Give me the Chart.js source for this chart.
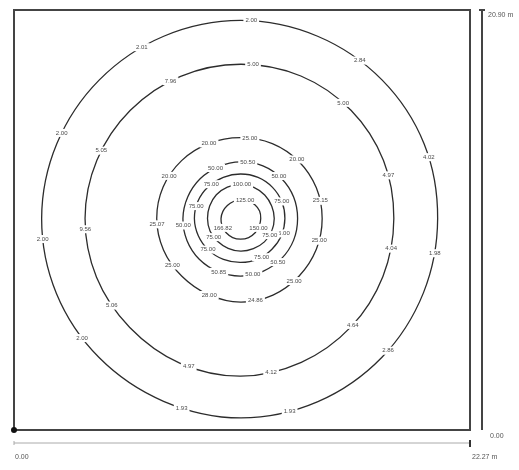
<!DOCTYPE html>
<html>
<head>
<meta charset="utf-8">
<script src="https://cdn.jsdelivr.net/npm/chart.js@4.4.1/dist/chart.umd.min.js"></script>
<style>
  html, body { margin: 0; padding: 0; background: #fff; }
  canvas { display: block; }
</style>
</head>
<body>
<canvas id="plan" width="519" height="470"></canvas>
<script>
// room size in metres
const roomWidth = 22.27;
const roomDepth = 20.90;
const centre = { x: 11.07, y: 10.52 };

const angles = [0, 22.5, 45, 67.5, 90, 112.5, 135, 157.5, 180, 202.5, 225, 247.5, 270, 292.5, 315, 337.5];

// contour radii in metres, one value per direction above
const radii2   = [9.62, 9.70, 9.76, 9.82, 9.86, 9.82, 9.76, 9.72, 9.72, 9.74, 9.78, 9.84, 9.92, 9.86, 9.76, 9.66];
const radii5   = [7.48, 7.55, 7.62, 7.68, 7.68, 7.66, 7.62, 7.60, 7.60, 7.62, 7.66, 7.78, 7.84, 7.74, 7.62, 7.52];
const radii25  = [3.98, 4.00, 4.02, 4.04, 4.03, 4.05, 4.08, 4.10, 4.10, 4.08, 4.06, 4.10, 4.16, 4.12, 4.04, 4.00];
const radii50  = [2.78, 2.80, 2.82, 2.84, 2.82, 2.80, 2.80, 2.80, 2.82, 2.84, 2.86, 2.86, 2.86, 2.84, 2.82, 2.80];
const radii75  = [2.16, 2.18, 2.20, 2.22, 2.22, 2.22, 2.24, 2.26, 2.26, 2.24, 2.22, 2.20, 2.18, 2.18, 2.16, 2.16];
const radii100 = [1.64, 1.64, 1.66, 1.68, 1.70, 1.70, 1.68, 1.64, 1.62, 1.62, 1.60, 1.60, 1.62, 1.62, 1.64, 1.64];
const radii125 = [0.98, 1.00, 0.98, 0.96, 0.94, 0.92, 0.92, 0.94, 0.96, 0.98, 1.00, 1.02, 1.02, 1.02, 1.00, 0.98];

// contour labels: where they sit (degrees) and what they read
const labelAngles2   = [87, 119.5, 154, 186, 217.5, 253, 284, 317.6, 349.7, 18.4, 53.5];
const labelTexts2    = ['2.00', '2.01', '2.00', '2.00', '2.00', '1.93', '1.93', '2.86', '1.98', '4.02', '2.84'];
const labelAngles5   = [85.5, 116.6, 153.6, 184, 214.5, 251, 281, 316, 348.5, 16.6, 49];
const labelTexts5    = ['5.00', '7.96', '5.05', '9.56', '5.06', '4.97', '4.12', '4.64', '4.04', '4.97', '5.00'];
const labelAngles25  = [83.6, 112.5, 148.7, 184, 215, 248, 280, 310, 344, 12.8, 47];
const labelTexts25   = ['25.00', '20.00', '20.00', '25.07', '25.00', '28.00', '24.86', '25.00', '25.00', '25.15', '20.00'];
const labelAngles50  = [83, 116, 187, 248, 282, 310, 48.6];
const labelTexts50   = ['50.50', '50.00', '50.00', '50.85', '50.00', '50.50', '50.00'];
const labelAngles75  = [130, 164, 224, 298, 23, 340];
const labelTexts75   = ['75.00', '75.00', '75.00', '75.00', '75.00', '75.00'];
const labelAngles100 = [88, 215, 330];
const labelTexts100  = ['100.00', '75.00', '75.00'];
const labelAngles125 = [77, 332, 208];
const labelTexts125  = ['125.00', '150.00', '166.82'];

const contours = [
    { radii: radii2,   labelAngles: labelAngles2,   labelTexts: labelTexts2 },
    { radii: radii5,   labelAngles: labelAngles5,   labelTexts: labelTexts5 },
    { radii: radii25,  labelAngles: labelAngles25,  labelTexts: labelTexts25 },
    { radii: radii50,  labelAngles: labelAngles50,  labelTexts: labelTexts50 },
    { radii: radii75,  labelAngles: labelAngles75,  labelTexts: labelTexts75 },
    { radii: radii100, labelAngles: labelAngles100, labelTexts: labelTexts100 },
    { radii: radii125, labelAngles: labelAngles125, labelTexts: labelTexts125 }
];

// polar reading -> plan point
function toPoint(r, deg) {
    const a = deg * Math.PI / 180;
    return { x: centre.x + r * Math.cos(a), y: centre.y + r * Math.sin(a) };
}

// radius between two read directions, for placing the labels
function radiusAt(rs, deg) {
    const step = 360 / rs.length;
    const d = ((deg % 360) + 360) % 360;
    const i = Math.floor(d / step);
    const t = (d - i * step) / step;
    return rs[i] * (1 - t) + rs[(i + 1) % rs.length] * t;
}

// a closed ring: repeat the first three readings so the curve joins smoothly,
// then hide the two doubled segments
const lastHidden = angles.length + 1;
const datasets = contours.map(c => {
    const pts = c.radii.map((r, i) => toPoint(r, angles[i]));
    pts.push(pts[0], pts[1], pts[2]);
    return {
        data: pts,
        showLine: true,
        borderColor: '#2c2c2c',
        borderWidth: 1.3,
        pointRadius: 0,
        tension: 0.34,
        segment: {
            borderColor: ctx => (ctx.p0DataIndex === 0 || ctx.p0DataIndex === lastHidden) ? 'rgba(0,0,0,0)' : undefined
        }
    };
});

const planPlugin = {
    id: 'plan',
    afterDatasetsDraw(chart) {
        const ctx = chart.ctx;
        const xs = chart.scales.x, ys = chart.scales.y;
        ctx.save();
        ctx.font = '6px "Liberation Sans", Arial, sans-serif';
        ctx.textAlign = 'center';
        ctx.textBaseline = 'middle';
        contours.forEach(c => {
            c.labelAngles.forEach((deg, i) => {
                const p = toPoint(radiusAt(c.radii, deg), deg);
                const px = xs.getPixelForValue(p.x), py = ys.getPixelForValue(p.y);
                const w = ctx.measureText(c.labelTexts[i]).width;
                ctx.fillStyle = '#fff';
                ctx.fillRect(px - w / 2 - 2, py - 4, w + 4, 8);
                ctx.fillStyle = '#4a4a4a';
                ctx.fillText(c.labelTexts[i], px, py);
            });
        });
        ctx.restore();
    },
    afterDraw(chart) {
        const ctx = chart.ctx;
        const xs = chart.scales.x, ys = chart.scales.y;
        const x0 = xs.getPixelForValue(0), x1 = xs.getPixelForValue(roomWidth);
        const y0 = ys.getPixelForValue(0), y1 = ys.getPixelForValue(roomDepth);
        ctx.save();

        // room outline
        ctx.strokeStyle = '#444';
        ctx.lineWidth = 2;
        ctx.strokeRect(x0, y1, x1 - x0, y0 - y1);

        // origin marker
        ctx.fillStyle = '#111';
        ctx.beginPath();
        ctx.arc(x0, y0, 3, 0, Math.PI * 2);
        ctx.fill();

        // depth bar on the right
        const bx = x1 + 12;
        ctx.strokeStyle = '#444';
        ctx.lineWidth = 2;
        ctx.beginPath();
        ctx.moveTo(bx, y1); ctx.lineTo(bx, y0);
        ctx.moveTo(bx - 3, y1); ctx.lineTo(bx + 3, y1);
        ctx.stroke();

        // width bar underneath
        const by = y0 + 13;
        ctx.strokeStyle = '#aaa';
        ctx.lineWidth = 1;
        ctx.beginPath();
        ctx.moveTo(x0, by); ctx.lineTo(x1, by);
        ctx.moveTo(x0, by - 2); ctx.lineTo(x0, by + 2);
        ctx.stroke();
        ctx.strokeStyle = '#333';
        ctx.lineWidth = 2;
        ctx.beginPath();
        ctx.moveTo(x1, by - 3); ctx.lineTo(x1, by + 4);
        ctx.stroke();

        ctx.fillStyle = '#555';
        ctx.font = '7px "Liberation Sans", Arial, sans-serif';
        ctx.textBaseline = 'middle';
        ctx.textAlign = 'left';
        ctx.fillText(roomDepth.toFixed(2) + ' m', bx + 6, y1 + 5);
        ctx.fillText((0).toFixed(2), bx + 8, y0 + 6);
        ctx.fillText((0).toFixed(2), x0 + 1, by + 14);
        ctx.fillText(roomWidth.toFixed(2) + ' m', x1 + 2, by + 14);
        ctx.restore();
    }
};

new Chart(document.getElementById('plan'), {
    type: 'scatter',
    data: { datasets: datasets },
    options: {
        responsive: false,
        animation: false,
        layout: { padding: { left: 14, top: 10, right: 49, bottom: 40 } },
        plugins: { legend: { display: false }, tooltip: { enabled: false } },
        scales: {
            x: { type: 'linear', min: 0, max: roomWidth, display: false },
            y: { type: 'linear', min: 0, max: roomDepth, display: false }
        }
    },
    plugins: [planPlugin]
});
</script>
</body>
</html>
